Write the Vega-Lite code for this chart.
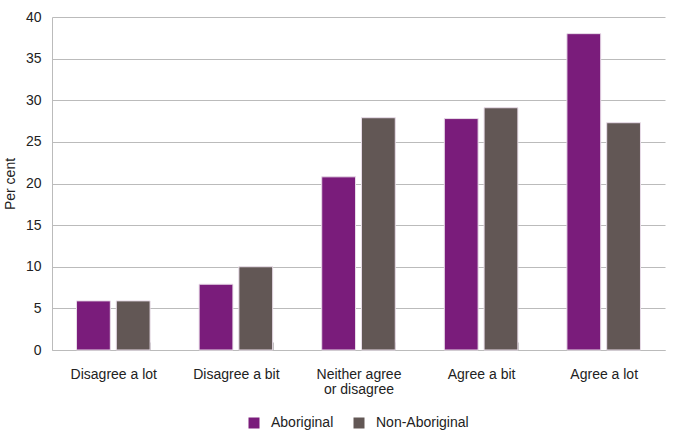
{
  "$schema": "https://vega.github.io/schema/vega-lite/v6.json",
  "width": 613,
  "height": 333,
  "autosize": {"type": "none"},
  "padding": {"left": 52, "top": 17, "right": 10, "bottom": 84},
  "background": "white",
  "config": {
    "font": "Liberation Sans",
    "view": {"stroke": null}
  },
  "data": {
    "values": [
      {"category": "Disagree a lot", "group": "Aboriginal", "value": 5.9},
      {"category": "Disagree a lot", "group": "Non-Aboriginal", "value": 5.9},
      {"category": "Disagree a bit", "group": "Aboriginal", "value": 7.9},
      {"category": "Disagree a bit", "group": "Non-Aboriginal", "value": 10.0},
      {"category": "Neither agree or disagree", "group": "Aboriginal", "value": 20.8},
      {"category": "Neither agree or disagree", "group": "Non-Aboriginal", "value": 27.9},
      {"category": "Agree a bit", "group": "Aboriginal", "value": 27.8},
      {"category": "Agree a bit", "group": "Non-Aboriginal", "value": 29.1},
      {"category": "Agree a lot", "group": "Aboriginal", "value": 38.0},
      {"category": "Agree a lot", "group": "Non-Aboriginal", "value": 27.3}
    ]
  },
  "mark": {"type": "bar", "stroke": "#e8dce8", "strokeWidth": 1},
  "encoding": {
    "x": {
      "field": "category",
      "type": "nominal",
      "sort": ["Disagree a lot", "Disagree a bit", "Neither agree or disagree", "Agree a bit", "Agree a lot"],
      "scale": {"paddingInner": 0.4, "paddingOuter": 0.2},
      "axis": {
        "title": null,
        "labelAngle": 0,
        "labelFontSize": 14,
        "labelColor": "#222222",
        "labelExpr": "datum.value == 'Neither agree or disagree' ? ['Neither agree', 'or disagree'] : datum.value",
        "labelPadding": 25,
        "labelBaseline": "top",
        "labelLineHeight": 15,
        "tickBand": "extent",
        "tickSize": -8,
        "tickColor": "#bbbbbb",
        "domainColor": "#bbbbbb",
        "grid": false
      }
    },
    "xOffset": {
      "field": "group",
      "type": "nominal",
      "scale": {"paddingInner": 0.15, "paddingOuter": 0}
    },
    "y": {
      "field": "value",
      "type": "quantitative",
      "scale": {"domain": [0, 40]},
      "axis": {
        "title": "Per cent",
        "titleFontSize": 14,
        "titleFontWeight": "normal",
        "titleColor": "#222222",
        "titlePadding": 8,
        "labelFontSize": 14,
        "labelColor": "#222222",
        "labelPadding": 11,
        "labelOverlap": false,
        "values": [0, 5, 10, 15, 20, 25, 30, 35, 40],
        "ticks": false,
        "gridColor": "#bbbbbb",
        "domainColor": "#bbbbbb"
      }
    },
    "color": {
      "field": "group",
      "type": "nominal",
      "scale": {"domain": ["Aboriginal", "Non-Aboriginal"], "range": ["#7a1c7b", "#625755"]},
      "legend": {
        "title": null,
        "orient": "none",
        "direction": "horizontal",
        "legendX": 195,
        "legendY": 399,
        "symbolType": "square",
        "symbolSize": 121,
        "symbolStrokeWidth": 0,
        "labelFontSize": 14,
        "labelColor": "#222222",
        "labelOffset": 10,
        "columnPadding": 18
      }
    }
  }
}
